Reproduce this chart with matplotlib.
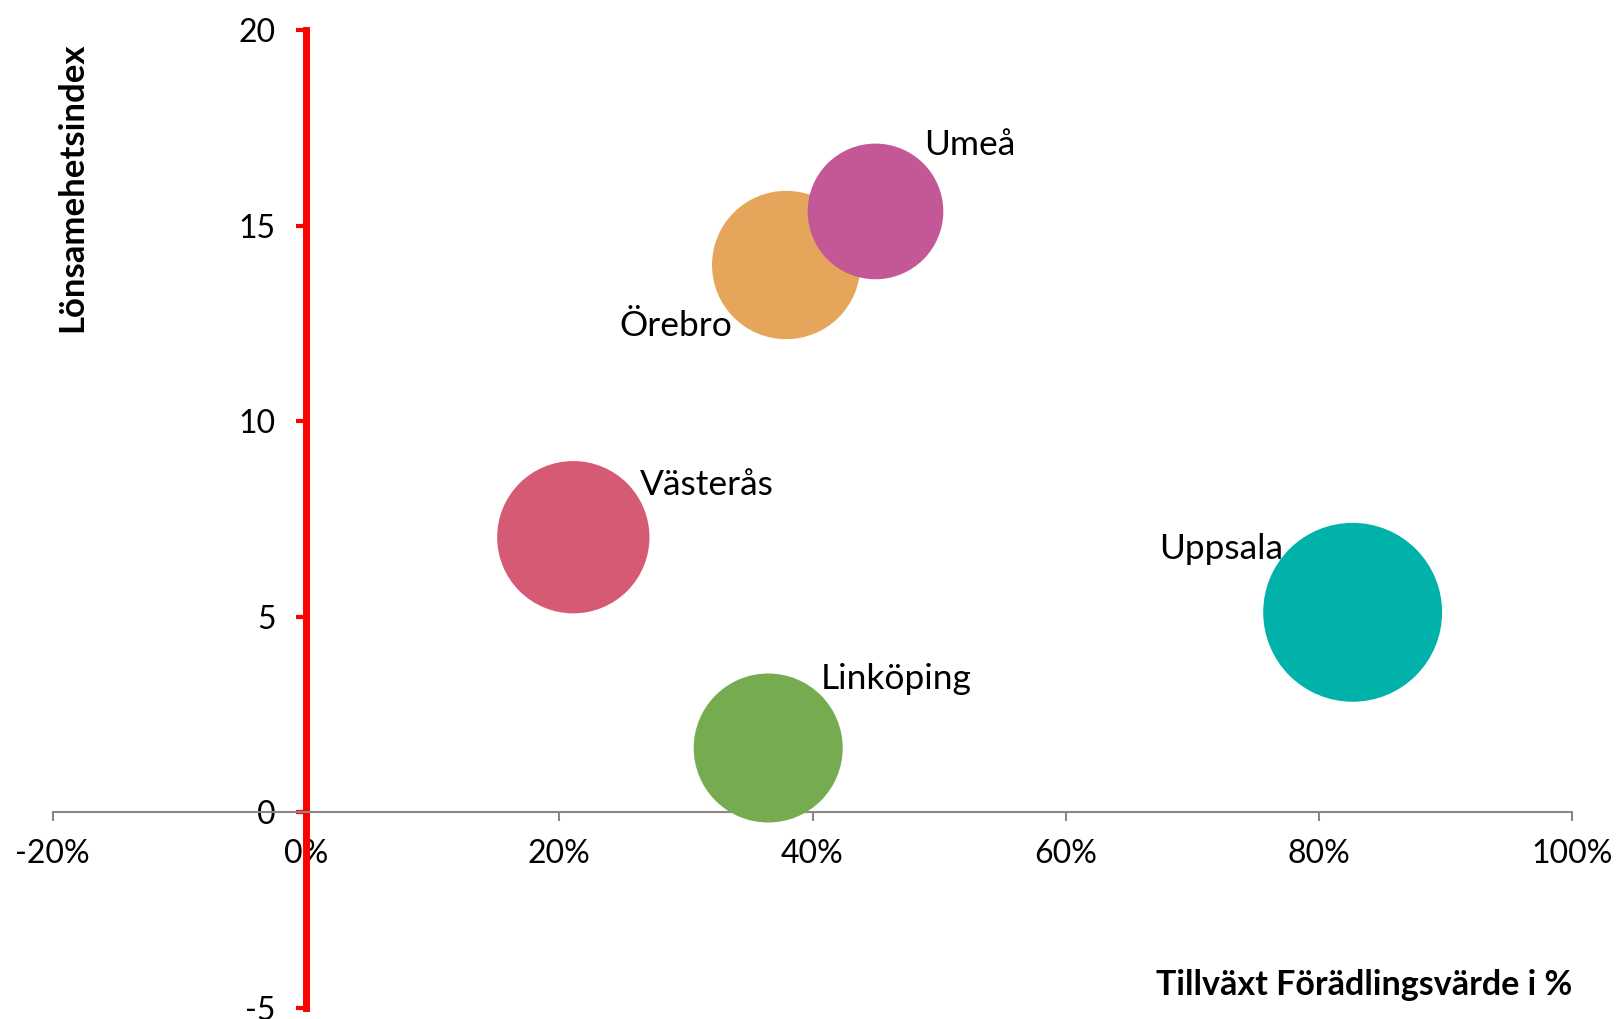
import matplotlib
matplotlib.use('Agg')
import matplotlib.pyplot as plt

plt.rcParams['font.family'] = ['Lato', 'DejaVu Sans']
plt.rcParams['axes.unicode_minus'] = False

# data (drawing order: Umeå lies on top of Örebro)
stader = ['Örebro', 'Umeå', 'Västerås', 'Linköping', 'Uppsala']
tillvaxt = [0.3792, 0.4497, 0.2111, 0.3650, 0.8265]      # Tillväxt förädlingsvärde
lonsamhet = [13.99, 15.36, 7.03, 1.64, 5.11]              # Lönsamhetsindex
storlek = [55.0, 46.0, 58.0, 55.5, 80.0]                  # bubbelstorlek
farger = ['#E5A65C', '#C45795', '#D45B73', '#76AB50', '#00B2A9']

x_ticks = [-0.2, 0.0, 0.2, 0.4, 0.6, 0.8, 1.0]
y_ticks = [-5, 0, 5, 10, 15, 20]

fig = plt.figure(figsize=(16.21, 10.19), dpi=100)
ax = fig.add_axes([0.0325, 0.0111, 0.9375, 0.9595])

ax.scatter(tillvaxt, lonsamhet, s=[v * 207.4 for v in storlek],
           c=farger, linewidths=0, zorder=3)

# label offsets in pixels (dx, dy, ha)
offsets = {
    'Umeå': (49, 56, 'left'),
    'Örebro': (-54, -71, 'right'),
    'Västerås': (67, 42, 'left'),
    'Linköping': (53, 59, 'left'),
    'Uppsala': (-70, 53, 'right'),
}
for namn, x, y in zip(stader, tillvaxt, lonsamhet):
    dx, dy, ha = offsets[namn]
    ax.annotate(namn, (x, y), xytext=(dx, dy), textcoords='offset pixels',
                ha=ha, va='baseline', fontsize=25.5, color='black', zorder=4)

ax.set_xlim(-0.2, 1.0)
ax.set_ylim(-5, 20)
ax.set_xticks(x_ticks)
ax.set_xticklabels(['{:.0f}%'.format(v * 100) for v in x_ticks])
ax.set_yticks(y_ticks)

for s in ['top', 'right']:
    ax.spines[s].set_visible(False)
ax.spines['bottom'].set_position(('data', 0))
ax.spines['bottom'].set_color('#888888')
ax.spines['bottom'].set_linewidth(1.5)
ax.spines['left'].set_position(('data', 0))
ax.spines['left'].set_color('#FF0000')
ax.spines['left'].set_linewidth(5)

ax.tick_params(axis='x', direction='out', length=6.5, width=1.5, color='#888888',
               pad=13, labelsize=23)
ax.tick_params(axis='y', direction='out', length=7, width=3, color='#FF0000',
               pad=15, labelsize=23)

fig.text(1572 / 1621, 1 - 985 / 1019, 'Tillväxt Förädlingsvärde i %',
         ha='right', va='center', fontsize=24.5, fontweight='bold')
fig.text(72 / 1621, 1 - 43 / 1019, 'Lönsamehetsindex', rotation=90,
         ha='center', va='top', fontsize=25, fontweight='bold')

fig.savefig('out.png', dpi=100)
